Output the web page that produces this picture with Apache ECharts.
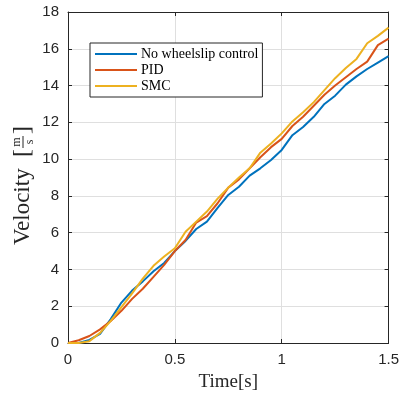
<!DOCTYPE html>
<html>
<head>
<meta charset="utf-8">
<script src="https://cdn.jsdelivr.net/npm/echarts@6/dist/echarts.min.js"></script>
<style>
  html, body { margin: 0; padding: 0; background: #fff; }
  #chart { width: 402px; height: 399px; }
</style>
</head>
<body>
<div id="chart"></div>
<script>
// time samples [s]
const time = [0, 0.05, 0.1, 0.15, 0.2, 0.25, 0.3, 0.35, 0.4, 0.45, 0.5,
  0.55, 0.6, 0.65, 0.7, 0.75, 0.8, 0.85, 0.9, 0.95, 1.0,
  1.05, 1.1, 1.15, 1.2, 1.25, 1.3, 1.35, 1.4, 1.45, 1.5];

// velocity [m/s]
const noControl = [0, 0.0, 0.17, 0.5, 1.3, 2.2, 2.85, 3.35, 3.9, 4.35, 5.0,
  5.55, 6.2, 6.6, 7.35, 8.05, 8.5, 9.1, 9.5, 9.95, 10.5,
  11.3, 11.75, 12.3, 13.0, 13.45, 14.05, 14.5, 14.9, 15.25, 15.6];
const pid = [0, 0.15, 0.38, 0.74, 1.2, 1.75, 2.4, 2.95, 3.6, 4.25, 5.0,
  5.6, 6.55, 6.9, 7.6, 8.45, 8.9, 9.5, 10.1, 10.65, 11.1,
  11.8, 12.3, 12.9, 13.5, 14.0, 14.45, 14.9, 15.3, 16.2, 16.55];
const smc = [0, 0.0, 0.1, 0.55, 1.2, 1.95, 2.7, 3.5, 4.2, 4.7, 5.15,
  6.05, 6.6, 7.15, 7.85, 8.45, 9.0, 9.5, 10.35, 10.85, 11.4,
  12.05, 12.55, 13.1, 13.75, 14.4, 14.95, 15.45, 16.3, 16.7, 17.15];

const seriesNames = ['No wheelslip control', 'PID', 'SMC'];
const colors = ['#0072BD', '#D95319', '#EDB120'];

const axisColor = '#262626';
const gridColor = '#DFDFDF';
const tickFont = 'Liberation Sans, Arial, sans-serif';
const serif = 'Liberation Serif, DejaVu Serif, serif';

const myChart = echarts.init(document.getElementById('chart'));

function mkSeries(name, vals, i) {
  return {
    name: name,
    type: 'line',
    symbol: 'none',
    xAxisIndex: 0,
    yAxisIndex: 0,
    data: time.map((t, k) => [t, vals[k]]),
    lineStyle: { width: 2, color: colors[i] },
    itemStyle: { color: colors[i] },
    animation: false
  };
}

const option = {
  backgroundColor: '#fff',
  animation: false,
  grid: { left: 68, right: 12, top: 12, bottom: 56, containLabel: false },
  legend: {
    orient: 'vertical',
    left: 90,
    top: 43,
    data: seriesNames.map(n => ({ name: n, icon: 'rect' })),
    backgroundColor: '#fff',
    borderColor: axisColor,
    borderWidth: 1,
    padding: [3, 4, 3, 5],
    itemWidth: 42,
    itemHeight: 2,
    itemGap: 0,
    textStyle: { fontFamily: serif, fontSize: 14, lineHeight: 16, color: '#000', padding: [0, 0, 0, -1] }
  },
  xAxis: [{
    type: 'value',
    min: 0, max: 1.5, interval: 0.5,
    name: 'Time[s]',
    nameLocation: 'middle',
    nameGap: 30,
    nameTextStyle: { fontFamily: serif, fontSize: 19, color: axisColor },
    axisLine: { show: true, onZero: false, lineStyle: { color: axisColor, width: 1 } },
    axisTick: { show: true, inside: true, length: 4, lineStyle: { color: axisColor } },
    axisLabel: { fontFamily: tickFont, fontSize: 15, color: axisColor, margin: 9,
      formatter: v => String(v) },
    splitLine: { show: true, lineStyle: { color: gridColor, width: 1 } }
  }, {
    type: 'value',
    position: 'top',
    min: 0, max: 1.5, interval: 0.5,
    axisLine: { show: true, onZero: false, lineStyle: { color: axisColor, width: 1 } },
    axisTick: { show: true, inside: true, length: 4, lineStyle: { color: axisColor } },
    axisLabel: { show: false },
    splitLine: { show: false }
  }],
  yAxis: [{
    type: 'value',
    min: 0, max: 18, interval: 2,
    axisLine: { show: true, onZero: false, lineStyle: { color: axisColor, width: 1 } },
    axisTick: { show: true, inside: true, length: 4, lineStyle: { color: axisColor } },
    axisLabel: { fontFamily: tickFont, fontSize: 15, color: axisColor, margin: 9 },
    splitLine: { show: true, lineStyle: { color: gridColor, width: 1 } }
  }, {
    type: 'value',
    position: 'right',
    min: 0, max: 18, interval: 2,
    axisLine: { show: true, onZero: false, lineStyle: { color: axisColor, width: 1 } },
    axisTick: { show: true, inside: true, length: 4, lineStyle: { color: axisColor } },
    axisLabel: { show: false },
    splitLine: { show: false }
  }],
  graphic: {
    elements: [{
      type: 'group',
      x: 23,
      y: 245,
      rotation: Math.PI / 2,
      children: [
        { type: 'text', x: 0, y: 0,
          style: { text: 'Velocity', font: '23px ' + serif, fill: axisColor,
            align: 'left', verticalAlign: 'middle' } },
        { type: 'text', x: 88, y: 0,
          style: { text: '[', font: '24px ' + serif, fill: axisColor,
            align: 'left', verticalAlign: 'middle' } },
        { type: 'text', x: 103, y: -6,
          style: { text: 'm', font: '12px ' + serif, fill: axisColor,
            align: 'center', verticalAlign: 'middle' } },
        { type: 'line', shape: { x1: 97, y1: 0, x2: 109, y2: 0 },
          style: { stroke: axisColor, lineWidth: 1 } },
        { type: 'text', x: 103, y: 7,
          style: { text: 's', font: '12px ' + serif, fill: axisColor,
            align: 'center', verticalAlign: 'middle' } },
        { type: 'text', x: 111, y: 0,
          style: { text: ']', font: '24px ' + serif, fill: axisColor,
            align: 'left', verticalAlign: 'middle' } }
      ]
    }]
  },
  series: [
    mkSeries(seriesNames[0], noControl, 0),
    mkSeries(seriesNames[1], pid, 1),
    mkSeries(seriesNames[2], smc, 2)
  ]
};

myChart.setOption(option);
</script>
</body>
</html>
